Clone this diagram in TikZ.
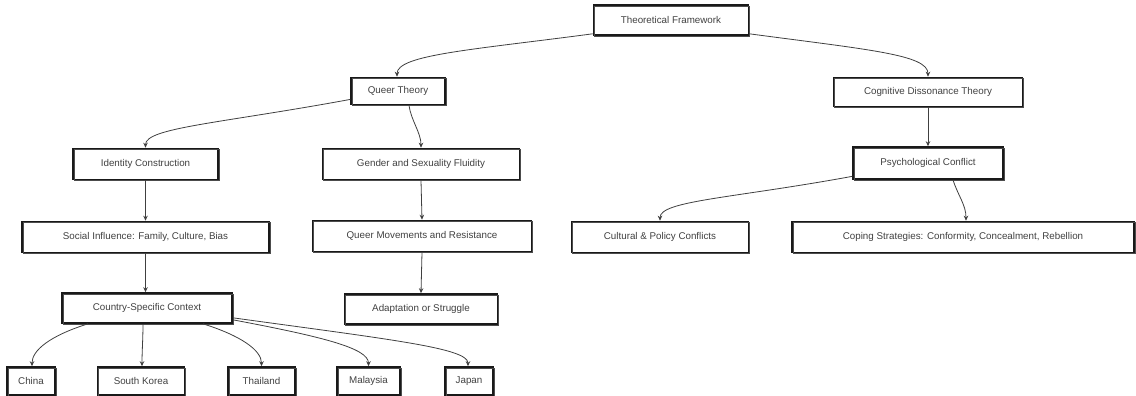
\documentclass[tikz,border=0pt]{standalone}
\usepackage{fontspec}
\setmainfont{Liberation Sans}
\usetikzlibrary{arrows.meta}
\begin{document}
\begin{tikzpicture}[x=1pt,y=1pt,
  box/.style={draw=black!90, line width=1.6pt, rectangle, inner sep=0pt,
    font=\fontsize{9.8}{11}\selectfont, text=black!75,
    postaction={draw=black!70, line width=0.6pt, transform canvas={shift={(0.8pt,-1.2pt)}}}},
  conn/.style={draw=black!75, line width=0.8pt, -{Stealth[length=5pt,width=4.5pt]}}
]
\useasboundingbox (0,0) rectangle (1136,-396);
% nodes
\node[box, minimum width=155, minimum height=30] (tf)  at (671,-20)   {Theoretical Framework};
\node[box, minimum width=94,  minimum height=27] (qt)  at (398,-91)   {Queer Theory};
\node[box, minimum width=189, minimum height=29] (cdt) at (928,-92)   {Cognitive Dissonance Theory};
\node[box, minimum width=145, minimum height=31] (ic)  at (145.5,-164) {Identity Construction};
\node[box, minimum width=197, minimum height=31] (gsf) at (421,-164)  {Gender and Sexuality Fluidity};
\node[box, minimum width=150, minimum height=32] (pc)  at (928,-163)  {Psychological Conflict};
\node[box, minimum width=247, minimum height=31] (si)  at (145.5,-237) {Social Influence: Family, Culture, Bias};
\node[box, minimum width=219, minimum height=31] (qm)  at (422,-236)  {Queer Movements and Resistance};
\node[box, minimum width=177, minimum height=31] (cpc) at (660,-237)  {Cultural \& Policy Conflicts};
\node[box, minimum width=342, minimum height=31] (cs)  at (963,-237)  {Coping Strategies: Conformity, Concealment, Rebellion};
\node[box, minimum width=170, minimum height=30] (csc) at (147,-308)  {Country-Specific Context};
\node[box, minimum width=153, minimum height=30] (as)  at (421,-309)  {Adaptation or Struggle};
\node[box, minimum width=48,  minimum height=28] (cn)  at (31,-381)   {China};
\node[box, minimum width=87,  minimum height=28] (sk)  at (141,-381)  {South Korea};
\node[box, minimum width=67,  minimum height=28] (th)  at (261.5,-381) {Thailand};
\node[box, minimum width=63,  minimum height=28] (my)  at (368.5,-381) {Malaysia};
\node[box, minimum width=48,  minimum height=28] (jp)  at (469,-381)  {Japan};
% connectors
\draw[conn] ([yshift=2pt]tf.south west) .. controls +(-120,-16) and +(0,22) .. ([xshift=-1pt]qt.north);
\draw[conn] ([yshift=2pt]tf.south east) .. controls +(120,-16) and +(0,22) .. (cdt.north);
\draw[conn] (qt.190) .. controls +(-130,-24) and +(0,20) .. (ic.north);
\draw[conn] ([xshift=11pt]qt.south) .. controls +(2,-15) and +(0,15) .. (gsf.north);
\draw[conn] (cdt.south) -- (pc.north);
\draw[conn] (pc.190) .. controls +(-120,-22) and +(0,20) .. (cpc.north);
\draw[conn] ([xshift=25pt]pc.south) .. controls +(5,-16) and +(0,16) .. ([xshift=3pt]cs.north);
\draw[conn] (ic.south) -- (si.north);
\draw[conn] (gsf.south) -- (qm.north);
\draw[conn] (si.south) -- ([xshift=-1.5pt]csc.north);
\draw[conn] (qm.south) -- (as.north);
\draw[conn] ([xshift=-59pt]csc.south) .. controls +(-38,-12) and +(0,16) .. ([xshift=1pt]cn.north);
\draw[conn] ([xshift=-4pt]csc.south) .. controls +(0,-15) and +(0,15) .. ([xshift=1pt]sk.north);
\draw[conn] ([xshift=56pt]csc.south) .. controls +(38,-12) and +(0,16) .. (th.north);
\draw[conn] ([yshift=4pt]csc.south east) .. controls +(90,-17) and +(0,18) .. (my.north);
\draw[conn] ([yshift=6pt]csc.south east) .. controls +(160,-22) and +(0,18) .. ([xshift=-1pt]jp.north);
\end{tikzpicture}
\end{document}
